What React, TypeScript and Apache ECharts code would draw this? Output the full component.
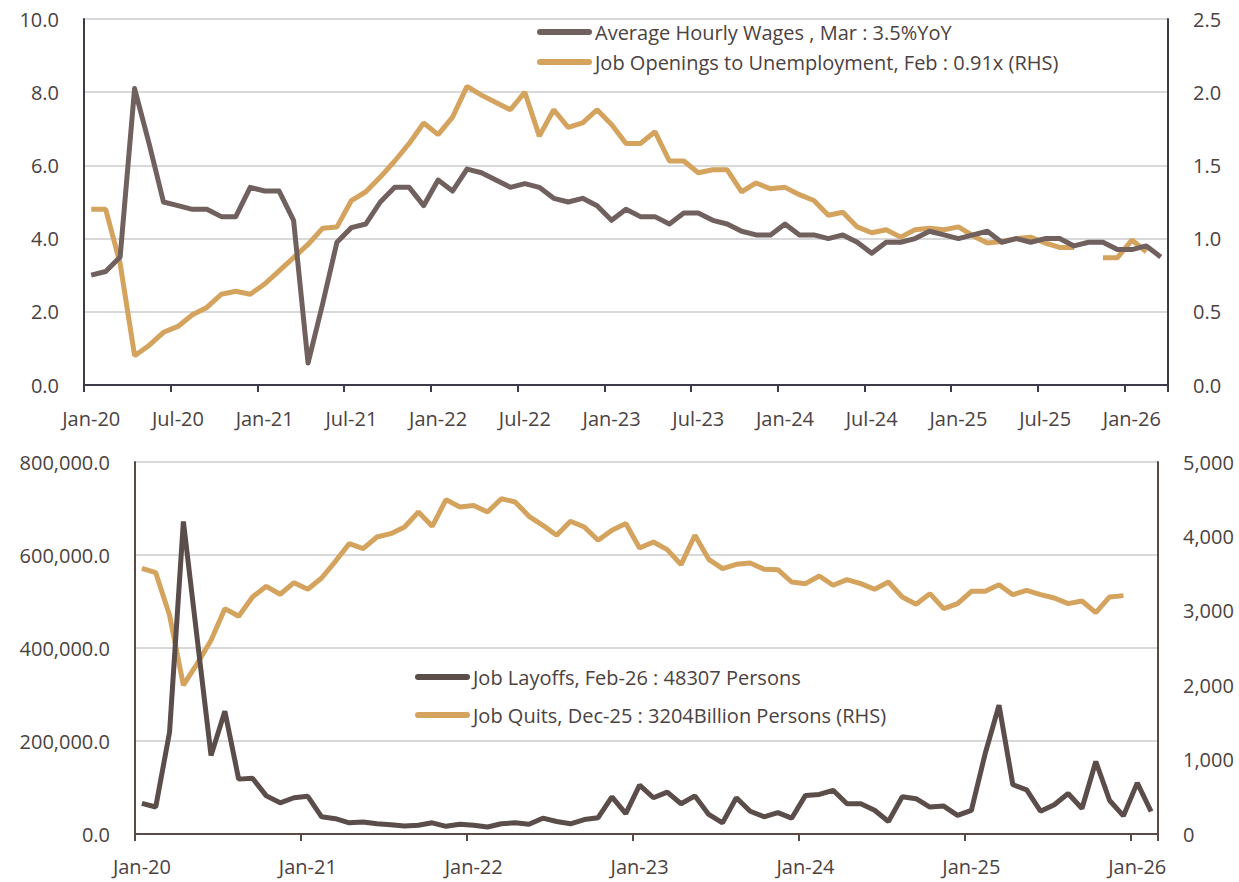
import React, { useEffect, useRef } from "react";
import * as echarts from "echarts";

const MONTH_NAMES = ["Jan", "Feb", "Mar", "Apr", "May", "Jun", "Jul", "Aug", "Sep", "Oct", "Nov", "Dec"];
function monthLabels(count: number): string[] {
  const out: string[] = [];
  for (let i = 0; i < count; i++) {
    const y = 20 + Math.floor(i / 12);
    out.push(`${MONTH_NAMES[i % 12]}-${y}`);
  }
  return out;
}

// Top chart: Jan-20 .. Mar-26
const topCategories = monthLabels(75);
const wagesYoY = [
  3.0, 3.1, 3.5, 8.1, 6.6, 5.0, 4.9, 4.8, 4.8, 4.6, 4.6, 5.4,
  5.3, 5.3, 4.5, 0.6, 2.2, 3.9, 4.3, 4.4, 5.0, 5.4, 5.4, 4.9,
  5.6, 5.3, 5.9, 5.8, 5.6, 5.4, 5.5, 5.4, 5.1, 5.0, 5.1, 4.9,
  4.5, 4.8, 4.6, 4.6, 4.4, 4.7, 4.7, 4.5, 4.4, 4.2, 4.1, 4.1,
  4.4, 4.1, 4.1, 4.0, 4.1, 3.9, 3.6, 3.9, 3.9, 4.0, 4.2, 4.1,
  4.0, 4.1, 4.2, 3.9, 4.0, 3.9, 4.0, 4.0, 3.8, 3.9, 3.9, 3.7,
  3.7, 3.8, 3.5,
];
const openingsToUnemp: (number | null)[] = [
  1.2, 1.2, 0.83, 0.2, 0.27, 0.36, 0.4, 0.48, 0.53, 0.62, 0.64, 0.62,
  0.69, 0.78, 0.87, 0.96, 1.07, 1.08, 1.26, 1.32, 1.42, 1.53, 1.65, 1.79,
  1.71, 1.83, 2.04, 1.98, 1.93, 1.88, 2.0, 1.7, 1.88, 1.76, 1.79, 1.88,
  1.78, 1.65, 1.65, 1.73, 1.53, 1.53, 1.45, 1.47, 1.47, 1.32, 1.38, 1.34,
  1.35, 1.3, 1.26, 1.16, 1.18, 1.08, 1.04, 1.06, 1.01, 1.06, 1.07, 1.06,
  1.08, 1.02, 0.97, 0.98, 1.0, 1.01, 0.97, 0.94, 0.94, null, 0.87, 0.87,
  0.99, 0.91, null,
];

// Bottom chart: Jan-20 .. Feb-26
const bottomCategories = monthLabels(74);
const layoffs = [
  66000, 58000, 219000, 672000, 420000, 169000, 264000, 118000, 120000, 82000, 67000, 78000,
  81000, 37000, 33000, 24000, 26000, 22000, 20000, 17000, 19000, 24000, 16500, 21000,
  19000, 15000, 22000, 24000, 21000, 34000, 27000, 22000, 31000, 35000, 80000, 44000,
  105000, 78000, 90000, 65000, 82000, 42000, 24000, 78000, 49000, 37000, 46000, 34000,
  83000, 85000, 94000, 65000, 65000, 51000, 27000, 80000, 76000, 58000, 60000, 40000,
  51000, 173000, 277000, 106000, 95000, 49000, 63000, 87000, 55000, 156000, 72000, 39000,
  110000, 48307,
];
const quits: (number | null)[] = [
  3570, 3512, 2940, 2000, 2290, 2603, 3029, 2926, 3186, 3329, 3222, 3378,
  3289, 3441, 3665, 3903, 3836, 3992, 4037, 4127, 4328, 4136, 4494, 4396,
  4415, 4328, 4507, 4463, 4270, 4149, 4015, 4203, 4127, 3948, 4082, 4172,
  3844, 3925, 3822, 3620, 4015, 3692, 3567, 3625, 3643, 3558, 3553, 3387,
  3365, 3468, 3343, 3419, 3365, 3289, 3387, 3186, 3087, 3231, 3029, 3096,
  3262, 3262, 3351, 3217, 3275, 3217, 3172, 3096, 3132, 2975, 3186, 3204,
  null, null,
];

const topLegend = [
  "Average Hourly Wages , Mar : 3.5%YoY",
  "Job Openings to Unemployment, Feb : 0.91x (RHS)",
];
const bottomLegend = [
  "Job Layoffs, Feb-26 : 48307 Persons",
  "Job Quits, Dec-25 : 3204Billion Persons (RHS)",
];

const FONT = "Open Sans";
const TEXT = "#4b4242";
const GOLD = "#d4a35e";
const WAGE = "#70605e";
const LAYOFF = "#5a4d4a";
const GRID = "#d9d9d9";
const AXIS_TOP = "#3b3c47";
const AXIS_BOT = "#5a4a45";
const CAPSULE = "path://M3,0 L52,0 A3,3 0 0 1 52,6 L3,6 A3,3 0 0 1 3,0 Z";

const fmtThousands = (v: number, dec: number) =>
  v.toLocaleString("en-US", { minimumFractionDigits: dec, maximumFractionDigits: dec });

export default function App() {
  const ref = useRef<HTMLDivElement>(null);
  useEffect(() => {
    if (!ref.current) return;
    const chart = echarts.init(ref.current, undefined, { renderer: "svg" });
    const labelStyle = { color: TEXT, fontFamily: FONT, fontSize: 20 };
    const xAxisBase = (cats: string[], gridIndex: number, interval: number, axisColor: string, margin: number) => ({
      type: "category",
      gridIndex,
      data: cats,
      boundaryGap: true,
      axisLine: { show: true, lineStyle: { color: axisColor, width: 2 } },
      axisTick: { show: true, interval, alignWithLabel: false, length: 7, lineStyle: { color: axisColor, width: 2 } },
      axisLabel: { ...labelStyle, interval, margin },
      splitLine: { show: false },
    });
    const yAxisBase = (gridIndex: number, max: number, interval: number, axisColor: string, fmt: (v: number) => string, showSplit: boolean) => ({
      type: "value",
      gridIndex,
      min: 0,
      max,
      interval,
      axisLine: { show: true, lineStyle: { color: axisColor, width: 2 } },
      axisTick: { show: false },
      axisLabel: { ...labelStyle, margin: 25, formatter: fmt },
      splitLine: { show: showSplit, lineStyle: { color: GRID, width: 2 } },
    });
    chart.setOption({
      animation: false,
      backgroundColor: "#ffffff",
      grid: [
        { left: 84, right: 71, top: 19, height: 366 },
        { left: 135, right: 81, top: 462, height: 372 },
      ],
      legend: [
        {
          orient: "vertical",
          left: 532,
          top: 17,
          itemWidth: 55,
          itemHeight: 6,
          itemGap: 10,
          icon: CAPSULE,
          textStyle: { ...labelStyle, padding: [0, 0, 0, -2] },
          data: topLegend,
        },
        {
          orient: "vertical",
          left: 410,
          top: 662,
          itemWidth: 55,
          itemHeight: 6,
          itemGap: 18,
          icon: CAPSULE,
          textStyle: { ...labelStyle, padding: [0, 0, 0, -2] },
          data: bottomLegend,
        },
      ],
      xAxis: [
        xAxisBase(topCategories, 0, 5, AXIS_TOP, 23),
        xAxisBase(bottomCategories, 1, 11, AXIS_BOT, 22),
      ],
      yAxis: [
        yAxisBase(0, 10, 2, AXIS_TOP, (v) => v.toFixed(1), true),
        yAxisBase(0, 2.5, 0.5, AXIS_TOP, (v) => v.toFixed(1), false),
        yAxisBase(1, 800000, 200000, AXIS_BOT, (v) => fmtThousands(v, 1), true),
        yAxisBase(1, 5000, 1000, AXIS_BOT, (v) => fmtThousands(v, 0), false),
      ].map((a, i) => ({ ...a, position: i % 2 === 0 ? "left" : "right" })),
      series: [
        {
          name: topLegend[0], type: "line", xAxisIndex: 0, yAxisIndex: 0, data: wagesYoY,
          showSymbol: false, lineStyle: { color: WAGE, width: 5, join: "round" }, itemStyle: { color: WAGE }, z: 3,
        },
        {
          name: topLegend[1], type: "line", xAxisIndex: 0, yAxisIndex: 1, data: openingsToUnemp,
          showSymbol: false, lineStyle: { color: GOLD, width: 5 }, itemStyle: { color: GOLD }, z: 2,
        },
        {
          name: bottomLegend[0], type: "line", xAxisIndex: 1, yAxisIndex: 2, data: layoffs,
          showSymbol: false, lineStyle: { color: LAYOFF, width: 5 }, itemStyle: { color: LAYOFF }, z: 3,
        },
        {
          name: bottomLegend[1], type: "line", xAxisIndex: 1, yAxisIndex: 3, data: quits,
          showSymbol: false, lineStyle: { color: GOLD, width: 5 }, itemStyle: { color: GOLD }, z: 2,
        },
      ],
    });
    return () => chart.dispose();
  }, []);
  return (
    <div
      ref={ref}
      style={{ position: "fixed", left: 0, top: 0, width: 1239, height: 882, background: "#fff" }}
    />
  );
}
